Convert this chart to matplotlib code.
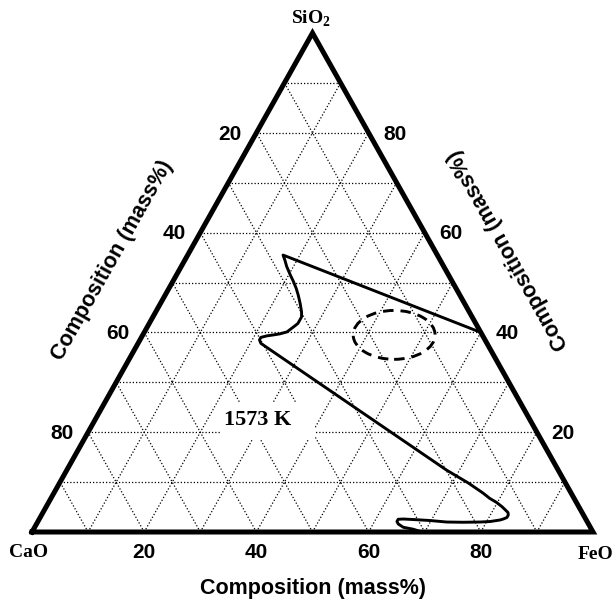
import numpy as np
import matplotlib.pyplot as plt
from matplotlib.patches import Ellipse, Rectangle

plt.rcParams['mathtext.fontset'] = 'custom'
plt.rcParams['mathtext.bf'] = 'Liberation Serif:bold'
plt.rcParams['mathtext.rm'] = 'Liberation Serif:bold'

SANS = 'Liberation Sans'
SERIF = 'Liberation Serif'

# liquid boundary at 1573 K, mass% (CaO = 100 - SiO2 - FeO)
sio2 = [40.0, 55.5, 54.4, 53.2, 51.5, 50.2, 48.8, 47.5, 45.8, 44.1, 43.1, 42.5, 41.8,
        41.3, 40.7, 40.1, 39.7, 39.5, 39.3, 39.0, 38.5, 37.8,
        12.4, 9.8, 7.8, 6.75, 5.95, 5.1, 4.4, 3.9, 3.4, 2.9, 2.6, 2.4, 2.1, 2.0, 1.95,
        2.0, 2.3, 2.5, 2.6, 2.55, 2.1, 1.6, 0.95, 0.55, 0.0]
feo = [60.0, 17.0, 17.9, 18.8, 20.3, 21.5, 22.7, 23.7, 24.9, 26.0, 26.5, 26.5, 26.5,
       26.2, 25.8, 25.4, 24.3, 23.3, 22.2, 21.3, 21.3, 21.9,
       67.7, 72.9, 76.5, 78.2, 79.8, 81.2, 82.2, 82.9, 83.2, 83.2, 82.7, 82.2, 80.6, 78.9, 75.9,
       72.9, 69.8, 66.7, 64.9, 64.0, 64.0, 64.5, 65.7, 67.7, 69.5]
cao = [100 - s - f for s, f in zip(sio2, feo)]

# dashed region (centre composition and half-widths in mass%)
ell_sio2, ell_feo = 39.5, 44.8
ell_half_feo, ell_half_sio2 = 7.3, 4.9

ticks = [20, 40, 60, 80]


def tern(c, s, f):
    # CaO bottom-left, FeO bottom-right, SiO2 on top
    c, s, f = np.asarray(c), np.asarray(s), np.asarray(f)
    return f + s / 2.0, s


fig = plt.figure(figsize=(6.13, 6.06), dpi=100)
ax = fig.add_axes([32 / 613, 74 / 606, 561 / 613, 499 / 606])
ax.set_xlim(0, 100)
ax.set_ylim(0, 100)
ax.axis('off')

# dotted 10% grid
dot = dict(color='black', lw=0.9, linestyle=(0, (1, 1.6)), zorder=1)
for k in range(10, 100, 10):
    x, y = tern([100 - k, 0], [k, k], [0, 100 - k])
    ax.plot(x, y, **dot)
    x, y = tern([100 - k, 0], [0, 100 - k], [k, k])
    ax.plot(x, y, **dot)
    x, y = tern([k, k], [0, 100 - k], [100 - k, 0])
    ax.plot(x, y, **dot)

# clear the grid behind the temperature label
ax.add_patch(Rectangle((33.5, 18.4), 16.9, 7.7, facecolor='white', edgecolor='none', zorder=2))
ax.text(40.3, 22.4, '1573 K', family=SERIF, weight='bold', fontsize=16,
        ha='center', va='center', zorder=3)

# triangle frame
x, y = tern([100, 0, 0, 100], [0, 0, 100, 0], [0, 100, 0, 0])
ax.plot(x, y, color='black', lw=3.6, solid_joinstyle='miter', zorder=5, clip_on=False)

x, y = tern(cao, sio2, feo)
ax.plot(x, y, color='black', lw=2.1, zorder=4, solid_joinstyle='round')

ex, ey = tern(100 - ell_sio2 - ell_feo, ell_sio2, ell_feo)
ax.add_patch(Ellipse((ex, ey), 2 * ell_half_feo, 2 * ell_half_sio2, fill=False,
                     edgecolor='black', lw=2.1, linestyle=(0, (3.6, 2.4)), zorder=4))

lab = dict(family=SANS, weight='bold', fontsize=15, ha='center', va='center')
for v in ticks:
    # CaO along the left edge
    x, y = tern(v, 100 - v, 0)
    ax.annotate(str(v), (x, y), xytext=(-19, -1), textcoords='offset points', **lab)
    # SiO2 along the right edge
    x, y = tern(0, v, 100 - v)
    ax.annotate(str(v), (x, y), xytext=(19, -1), textcoords='offset points', **lab)
    # FeO along the base
    x, y = tern(100 - v, 0, v)
    ax.annotate(str(v), (x, y), xytext=(0, -15), textcoords='offset points', **lab)

ax.text(-0.7, -4.2, 'CaO', family=SERIF, weight='bold', fontsize=14, ha='center', va='center')
ax.text(100.5, -4.6, 'FeO', family=SERIF, weight='bold', fontsize=14, ha='center', va='center')
ax.text(49.7, 102.8, r'SiO$_{\mathbf{2}}$', family=SERIF, weight='bold', fontsize=14,
        ha='center', va='center')

axlab = dict(family=SANS, weight='bold', fontsize=15.5, ha='center', va='center')
ax.text(50.0, -11.3, 'Composition (mass%)', **axlab)
ax.text(14.4, 54.5, 'Composition (mass%)', rotation=60.6, **axlab)
ax.text(84.9, 56.5, 'Composition (mass%)', rotation=119.4, **axlab)

fig.savefig('out.png', dpi=100)
